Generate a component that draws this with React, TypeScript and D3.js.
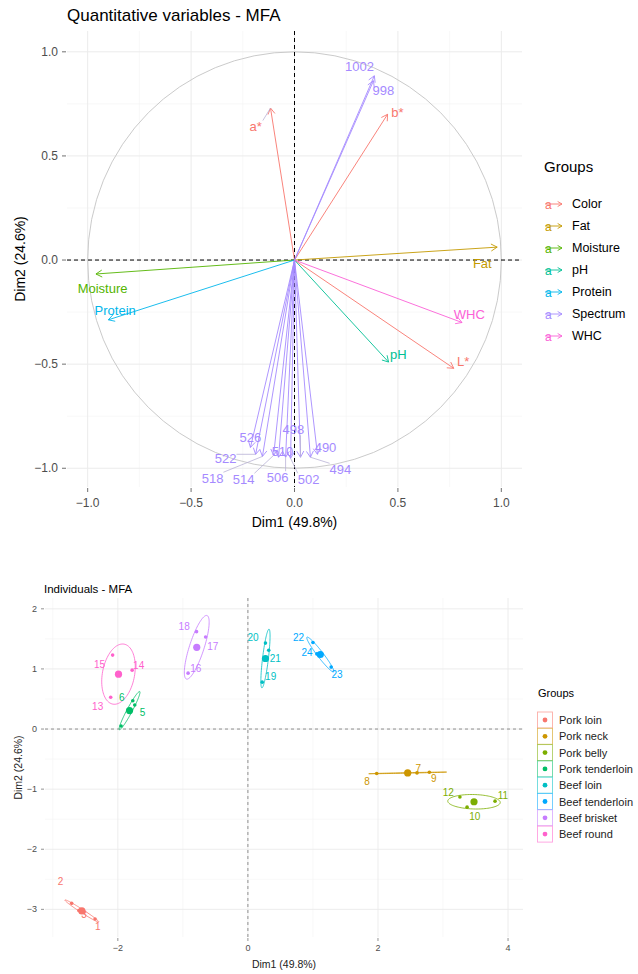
import React from 'react';
import * as d3 from 'd3';

const W = 638;
const H = 974;
const FONT = '"Liberation Sans", Arial, sans-serif';

// ---- quantitative variables (correlation circle) ----
const varNames = ['a*', 'b*', 'L*', 'Fat', 'Moisture', 'pH', 'Protein', 'WHC', '998', '1002',
  '490', '494', '498', '502', '506', '510', '514', '518', '522', '526'];
const varGroups = ['Color', 'Color', 'Color', 'Fat', 'Moisture', 'pH', 'Protein', 'WHC', 'Spectrum', 'Spectrum',
  'Spectrum', 'Spectrum', 'Spectrum', 'Spectrum', 'Spectrum', 'Spectrum', 'Spectrum', 'Spectrum', 'Spectrum', 'Spectrum'];
const varDim1 = [-0.116, 0.45, 0.77, 0.98, -0.96, 0.455, -0.9, 0.81, 0.382, 0.386,
  0.111, 0.077, 0.029, -0.019, -0.043, -0.077, -0.101, -0.155, -0.188, -0.213];
const varDim2 = [0.73, 0.7, -0.52, 0.062, -0.067, -0.49, -0.287, -0.3, 0.861, 0.885,
  -0.933, -0.947, -0.947, -0.952, -0.947, -0.947, -0.938, -0.943, -0.933, -0.9];
// where the (repelled) labels ended up
const varLabDim1 = [-0.188, 0.498, 0.816, 0.908, -0.928, 0.502, -0.867, 0.845, 0.43, 0.314,
  0.15, 0.222, -0.005, 0.068, -0.082, -0.058, -0.246, -0.396, -0.333, -0.213];
const varLabDim2 = [0.641, 0.708, -0.488, -0.019, -0.139, -0.455, -0.244, -0.263, 0.813, 0.928,
  -0.9, -1.005, -0.813, -1.053, -1.043, -0.919, -1.053, -1.048, -0.952, -0.852];
const varGroupNames = ['Color', 'Fat', 'Moisture', 'pH', 'Protein', 'Spectrum', 'WHC'];
const varGroupColors = ['#F8766D', '#C49A00', '#53B400', '#00C094', '#00B6EB', '#A58AFF', '#FB61D7'];
const topTicks = [-1, -0.5, 0, 0.5, 1];
const topMinor = [-0.75, -0.25, 0.25, 0.75];

// ---- individuals ----
const indNames = ['1', '2', '3', '4', '5', '6', '7', '8', '9', '10', '11', '12',
  '13', '14', '15', '16', '17', '18', '19', '20', '21', '22', '23', '24'];
const indGroup = [0, 0, 0, 3, 3, 3, 1, 1, 1, 2, 2, 2, 7, 7, 7, 6, 6, 6, 4, 4, 4, 5, 5, 5];
const indDim1 = [-2.35, -2.71, -2.6, -1.95, -1.74, -1.77, 2.6, 1.98, 2.79, 3.37, 3.8, 3.26,
  -2.11, -1.78, -2.08, -0.92, -0.65, -0.79, 0.22, 0.27, 0.32, 1.0, 1.28, 1.06];
const indDim2 = [-3.16, -2.9, -3.02, 0.05, 0.4, 0.47, -0.73, -0.74, -0.72, -1.3, -1.2, -1.13,
  0.53, 0.98, 1.23, 0.93, 1.53, 1.62, 0.78, 1.43, 1.31, 1.44, 1.03, 1.25];
const indLabDim1 = [-2.31, -2.88, -2.52, null, -1.62, -1.94, 2.62, 1.83, 2.86, 3.49, 3.92, 3.08,
  -2.31, -1.68, -2.28, -0.8, -0.54, -0.98, 0.35, 0.08, 0.42, 0.78, 1.37, 0.91];
const indLabDim2 = [-3.29, -2.53, -3.08, null, 0.27, 0.53, -0.65, -0.87, -0.83, -1.46, -1.1, -1.05,
  0.38, 1.05, 1.08, 1.0, 1.38, 1.71, 0.88, 1.53, 1.18, 1.53, 0.9, 1.28];
const indGroupNames = ['Pork loin', 'Pork neck', 'Pork belly', 'Pork tenderloin', 'Beef loin',
  'Beef tenderloin', 'Beef brisket', 'Beef round'];
const indGroupColors = ['#F8766D', '#CD9600', '#7CAE00', '#00BE67', '#00BFC4', '#00A9FF', '#C77CFF', '#FF61CC'];
const botXTicks = [-2, 0, 2, 4];
const botXMinor = [-3, -1, 1, 3];
const botYTicks = [-3, -2, -1, 0, 1, 2];
const botYMinor = [-2.5, -1.5, -0.5, 0.5, 1.5];

const fmt = (v: number, d: number) => (v < 0 ? '\u2212' : '') + Math.abs(v).toFixed(d);

function arrowHead(x1: number, y1: number, x2: number, y2: number, len = 7) {
  const a = Math.atan2(y2 - y1, x2 - x1);
  const s = Math.PI / 6;
  const p1 = [x2 - len * Math.cos(a - s), y2 - len * Math.sin(a - s)];
  const p2 = [x2 - len * Math.cos(a + s), y2 - len * Math.sin(a + s)];
  return `M${p1[0]},${p1[1]}L${x2},${y2}L${p2[0]},${p2[1]}`;
}

function VariablesPlot() {
  const x = d3.scaleLinear().domain([-1.1, 1.1]).range([67, 522]);
  const y = d3.scaleLinear().domain([-1.09, 1.1]).range([487, 31]);
  const [x0, x1] = x.range();
  const [y0, y1] = y.range();
  const colorOf = (g: string) => varGroupColors[varGroupNames.indexOf(g)];

  return (
    <g fontFamily={FONT}>
      {/* grid */}
      {topMinor.map((t) => (
        <g key={'m' + t}>
          <line x1={x(t)} x2={x(t)} y1={y1} y2={y0} stroke="#f4f4f4" strokeWidth={0.6} />
          <line x1={x0} x2={x1} y1={y(t)} y2={y(t)} stroke="#f4f4f4" strokeWidth={0.6} />
        </g>
      ))}
      {topTicks.map((t) => (
        <g key={'g' + t}>
          <line x1={x(t)} x2={x(t)} y1={y1} y2={y0} stroke="#ebebeb" strokeWidth={1} />
          <line x1={x0} x2={x1} y1={y(t)} y2={y(t)} stroke="#ebebeb" strokeWidth={1} />
        </g>
      ))}
      {/* unit circle */}
      <ellipse cx={x(0)} cy={y(0)} rx={x(1) - x(0)} ry={y(0) - y(1)} fill="none" stroke="#c4c4c4" strokeWidth={0.9} />
      {/* zero lines */}
      <line x1={x0} x2={x1} y1={y(0)} y2={y(0)} stroke="#000" strokeWidth={1} strokeDasharray="4,3" />
      <line x1={x(0)} x2={x(0)} y1={y1} y2={y0} stroke="#000" strokeWidth={1} strokeDasharray="4,3" />
      {/* arrows */}
      {varNames.map((n, i) => {
        const c = colorOf(varGroups[i]);
        const tx = x(varDim1[i]);
        const ty = y(varDim2[i]);
        return (
          <g key={n} stroke={c} fill="none" strokeWidth={0.9}>
            <line x1={x(0)} y1={y(0)} x2={tx} y2={ty} />
            <path d={arrowHead(x(0), y(0), tx, ty)} />
          </g>
        );
      })}
      {/* label connectors + labels */}
      {varNames.map((n, i) => {
        const c = colorOf(varGroups[i]);
        const lx = x(varLabDim1[i]);
        const ly = y(varLabDim2[i]);
        const tx = x(varDim1[i]);
        const ty = y(varDim2[i]);
        const hw = n.length * 3.6;
        const cx = Math.max(lx - hw, Math.min(tx, lx + hw));
        const cy = Math.max(ly - 6, Math.min(ty, ly + 6));
        const far = Math.hypot(cx - tx, cy - ty) > 12;
        return (
          <g key={'l' + n}>
            {far && <line x1={cx} y1={cy} x2={tx} y2={ty} stroke="#b9b3d6" strokeWidth={0.8} />}
            <text x={lx} y={ly} fill={c} fontSize={13} textAnchor="middle" dominantBaseline="central">{n}</text>
          </g>
        );
      })}
      {/* axes */}
      {topTicks.map((t) => (
        <g key={'ax' + t} fill="#4d4d4d" fontSize={12}>
          <line x1={x0 - 5} x2={x0 - 1} y1={y(t)} y2={y(t)} stroke="#4d4d4d" strokeWidth={0.8} />
          <text x={x0 - 9} y={y(t)} textAnchor="end" dominantBaseline="central">{fmt(t, 1)}</text>
          <line x1={x(t)} x2={x(t)} y1={y0 + 1} y2={y0 + 5} stroke="#4d4d4d" strokeWidth={0.8} />
          <text x={x(t)} y={y0 + 16} textAnchor="middle" dominantBaseline="central">{fmt(t, 1)}</text>
        </g>
      ))}
      <text x={(x0 + x1) / 2} y={522} fontSize={14} textAnchor="middle" dominantBaseline="central">Dim1 (49.8%)</text>
      <text transform={`translate(20,${(y0 + y1) / 2}) rotate(-90)`} fontSize={14} textAnchor="middle" dominantBaseline="central">Dim2 (24.6%)</text>
      <text x={67} y={15} fontSize={17} dominantBaseline="central">Quantitative variables - MFA</text>
      {/* legend */}
      <text x={544} y={166} fontSize={15} dominantBaseline="central">Groups</text>
      {varGroupNames.map((g, i) => {
        const cy = 204 + i * 22;
        const c = varGroupColors[i];
        return (
          <g key={'lg' + g}>
            <text x={545} y={cy + 1} fill={c} fontSize={12} dominantBaseline="central">a</text>
            <line x1={545} x2={562} y1={cy} y2={cy} stroke={c} strokeWidth={0.9} />
            <path d={arrowHead(545, cy, 562, cy, 5)} stroke={c} fill="none" strokeWidth={0.9} />
            <text x={572} y={cy} fontSize={12.5} dominantBaseline="central">{g}</text>
          </g>
        );
      })}
    </g>
  );
}

function ellipsePoints(px: number[], py: number[]) {
  const n = px.length;
  const mx = d3.mean(px) as number;
  const my = d3.mean(py) as number;
  let a = 0, b = 0, d = 0;
  for (let i = 0; i < n; i++) {
    a += (px[i] - mx) ** 2;
    b += (px[i] - mx) * (py[i] - my);
    d += (py[i] - my) ** 2;
  }
  a /= n - 1; b /= n - 1; d /= n - 1;
  const m = (a + d) / 2;
  const r = Math.sqrt(((a - d) / 2) ** 2 + b * b);
  const l1 = Math.max(m + r, 0);
  const l2 = Math.max(m - r, 0);
  const th = 0.5 * Math.atan2(2 * b, a - d);
  const k = Math.sqrt(5.991 / n);
  const r1 = k * Math.sqrt(l1);
  const r2 = k * Math.sqrt(l2);
  return d3.range(101).map((j) => {
    const t = (j / 100) * 2 * Math.PI;
    return [
      mx + r1 * Math.cos(t) * Math.cos(th) - r2 * Math.sin(t) * Math.sin(th),
      my + r1 * Math.cos(t) * Math.sin(th) + r2 * Math.sin(t) * Math.cos(th),
    ];
  });
}

function IndividualsPlot() {
  const x = d3.scaleLinear().domain([-3.12, 4.23]).range([45, 523]);
  const y = d3.scaleLinear().domain([-3.46, 2.18]).range([937, 598]);
  const [x0, x1] = x.range();
  const [y0, y1] = y.range();
  const line = d3.line<number[]>().x((p) => x(p[0])).y((p) => y(p[1]));

  const groups = indGroupNames.map((g, gi) => {
    const idx = indGroup.map((v, i) => (v === gi ? i : -1)).filter((i) => i >= 0);
    const px = idx.map((i) => indDim1[i]);
    const py = idx.map((i) => indDim2[i]);
    return { g, gi, px, py, mx: d3.mean(px) as number, my: d3.mean(py) as number };
  });

  return (
    <g fontFamily={FONT}>
      {botXMinor.map((t) => (
        <line key={'xm' + t} x1={x(t)} x2={x(t)} y1={y1} y2={y0} stroke="#f4f4f4" strokeWidth={0.6} />
      ))}
      {botYMinor.map((t) => (
        <line key={'ym' + t} x1={x0} x2={x1} y1={y(t)} y2={y(t)} stroke="#f4f4f4" strokeWidth={0.6} />
      ))}
      {botXTicks.map((t) => (
        <line key={'xg' + t} x1={x(t)} x2={x(t)} y1={y1} y2={y0} stroke="#ebebeb" strokeWidth={0.9} />
      ))}
      {botYTicks.map((t) => (
        <line key={'yg' + t} x1={x0} x2={x1} y1={y(t)} y2={y(t)} stroke="#ebebeb" strokeWidth={0.9} />
      ))}
      <line x1={x0} x2={x1} y1={y(0)} y2={y(0)} stroke="#777" strokeWidth={0.8} strokeDasharray="3,3" />
      <line x1={x(0)} x2={x(0)} y1={y1} y2={y0} stroke="#777" strokeWidth={0.8} strokeDasharray="3,3" />
      {/* ellipses */}
      {groups.map((G) => (
        <path key={'e' + G.g} d={line(ellipsePoints(G.px, G.py)) || ''} fill="none"
          stroke={indGroupColors[G.gi]} strokeWidth={0.8} />
      ))}
      {/* points */}
      {indNames.map((n, i) => (
        <circle key={'p' + n} cx={x(indDim1[i])} cy={y(indDim2[i])} r={1.8} fill={indGroupColors[indGroup[i]]} />
      ))}
      {/* centroids */}
      {groups.map((G) => (
        <circle key={'c' + G.g} cx={x(G.mx)} cy={y(G.my)} r={3.6} fill={indGroupColors[G.gi]} />
      ))}
      {/* labels */}
      {indNames.map((n, i) => {
        const lx = indLabDim1[i];
        const ly = indLabDim2[i];
        if (lx == null || ly == null) return null;
        return (
          <text key={'t' + n} x={x(lx)} y={y(ly)} fill={indGroupColors[indGroup[i]]} fontSize={10}
            textAnchor="middle" dominantBaseline="central">{n}</text>
        );
      })}
      {/* axes */}
      {botYTicks.map((t) => (
        <g key={'ya' + t}>
          <line x1={x0 - 4} x2={x0 - 1} y1={y(t)} y2={y(t)} stroke="#666" strokeWidth={0.7} />
          <text x={x0 - 8} y={y(t)} fill="#4d4d4d" fontSize={9} textAnchor="end" dominantBaseline="central">{fmt(t, 0)}</text>
        </g>
      ))}
      {botXTicks.map((t) => (
        <g key={'xa' + t}>
          <line x1={x(t)} x2={x(t)} y1={y0 + 1} y2={y0 + 4} stroke="#666" strokeWidth={0.7} />
          <text x={x(t)} y={y0 + 11} fill="#4d4d4d" fontSize={9} textAnchor="middle" dominantBaseline="central">{fmt(t, 0)}</text>
        </g>
      ))}
      <text x={(x0 + x1) / 2} y={964} fontSize={10.5} fill="#222" textAnchor="middle" dominantBaseline="central">Dim1 (49.8%)</text>
      <text transform={`translate(18,${(y0 + y1) / 2}) rotate(-90)`} fontSize={10.5} fill="#222" textAnchor="middle" dominantBaseline="central">Dim2 (24.6%)</text>
      <text x={44} y={589} fontSize={11.5} dominantBaseline="central">Individuals - MFA</text>
      {/* legend */}
      <text x={538} y={693} fontSize={11} dominantBaseline="central">Groups</text>
      {indGroupNames.map((g, i) => {
        const cy = 720 + i * 16.3;
        const c = indGroupColors[i];
        return (
          <g key={'il' + g}>
            <rect x={537.5} y={cy - 8} width={15} height={16} fill="#fff" stroke={c} strokeOpacity={0.6} strokeWidth={0.9} />
            <circle cx={545} cy={cy} r={2.4} fill={c} />
            <text x={559} y={cy} fontSize={11} fill="#222" dominantBaseline="central">{g}</text>
          </g>
        );
      })}
    </g>
  );
}

export default function App() {
  return (
    <svg width={W} height={H} viewBox={`0 0 ${W} ${H}`}
      style={{ position: 'absolute', left: 0, top: 0, background: '#fff' }}>
      <rect width={W} height={H} fill="#fff" />
      <VariablesPlot />
      <IndividualsPlot />
    </svg>
  );
}
